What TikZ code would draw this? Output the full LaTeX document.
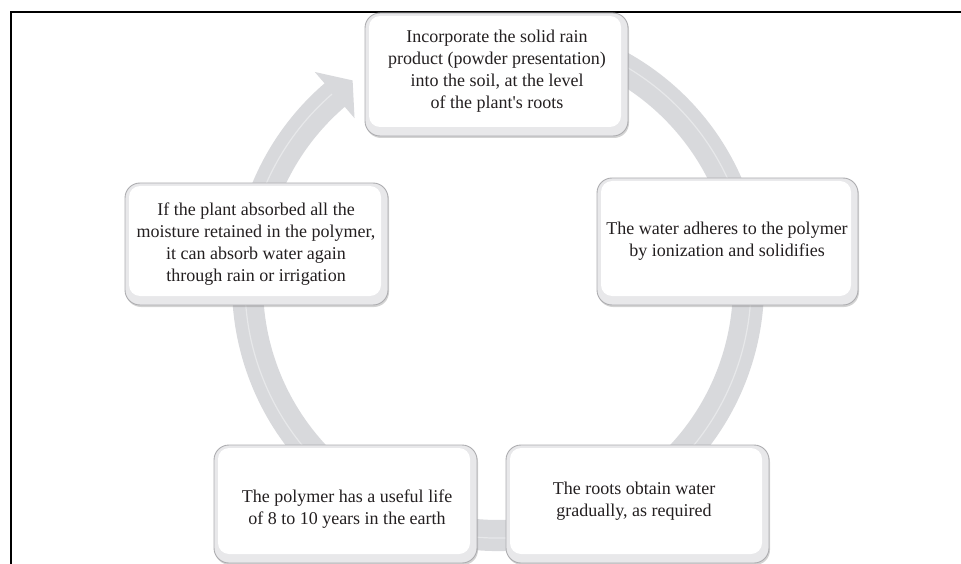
\documentclass[tikz,border=0pt]{standalone}
\usepackage{fontspec}
\setmainfont{Liberation Serif}
\usetikzlibrary{calc,shadows}
\definecolor{ringcol}{RGB}{216,217,220}
\definecolor{ringhi}{RGB}{231,232,234}
\definecolor{boxedge}{RGB}{172,172,175}
\definecolor{bevel}{RGB}{232,232,234}
\definecolor{txtcol}{RGB}{35,31,32}
\begin{document}
\begin{tikzpicture}[x=1pt,y=-1pt,
  stepbox/.style={draw=boxedge, line width=0.9pt, fill=bevel, rounded corners=15pt,
    inner sep=0pt,
    drop shadow={shadow xshift=1pt,shadow yshift=-2pt,opacity=.35,fill=gray},
    path picture={\fill[white,rounded corners=11pt]
      ([xshift=4pt,yshift=-3pt]path picture bounding box.north west) rectangle
      ([xshift=-7pt,yshift=9pt]path picture bounding box.south east);}},
  steptext/.style={align=center, font=\fontsize{18}{22}\selectfont, text=txtcol, inner sep=0pt},
  frameline/.style={line width=1.8pt, black}
]
\useasboundingbox (0,0) rectangle (961,564);
\begin{scope}
\clip (0,0) rectangle (961,564);
% ring arrow
\coordinate (ctr) at (498,285);
\fill[ringcol] ($(ctr)+(-110:266)$) arc[start angle=-110,end angle=229.3,radius=266]
  -- ($(ctr)+(229.3:281)$) -- ($(ctr)+(234.6:251)$) -- ($(ctr)+(229.3:220)$)
  -- ($(ctr)+(229.3:235)$) arc[start angle=229.3,end angle=-110,radius=235] -- cycle;
\draw[ringhi, line width=1.2pt] ($(ctr)+(-110:253)$) arc[start angle=-110,end angle=229,radius=253];
% frame
\draw[frameline] (11,564) -- (11,12) -- (961,12);
% boxes
\node[stepbox, minimum width=263pt, minimum height=123pt] (A) at (496.5,74.5) {};
\node[stepbox, minimum width=261pt, minimum height=127pt] (B) at (727.5,241.5) {};
\node[stepbox, minimum width=263pt, minimum height=118pt] (C) at (637.5,504) {};
\node[stepbox, minimum width=263pt, minimum height=118pt] (D) at (345.5,504) {};
\node[stepbox, minimum width=263pt, minimum height=122pt] (E) at (256.5,244) {};
% texts
\node[steptext] (At) at (497,71) {Incorporate the solid rain\\product (powder presentation)\\into the soil, at the level\\of the plant\textquotesingle s roots};
\node[steptext] (Bt) at (727,241) {The water adheres to the polymer\\by ionization and solidifies};
\node[steptext] (Ct) at (634,501) {The roots obtain water\\gradually, as required};
\node[steptext] (Dt) at (347,509) {The polymer has a useful life\\of 8 to 10 years in the earth};
\node[steptext] (Et) at (256,244.5) {If the plant absorbed all the\\moisture retained in the polymer,\\it can absorb water again\\through rain or irrigation};
\end{scope}
\end{tikzpicture}
\end{document}
